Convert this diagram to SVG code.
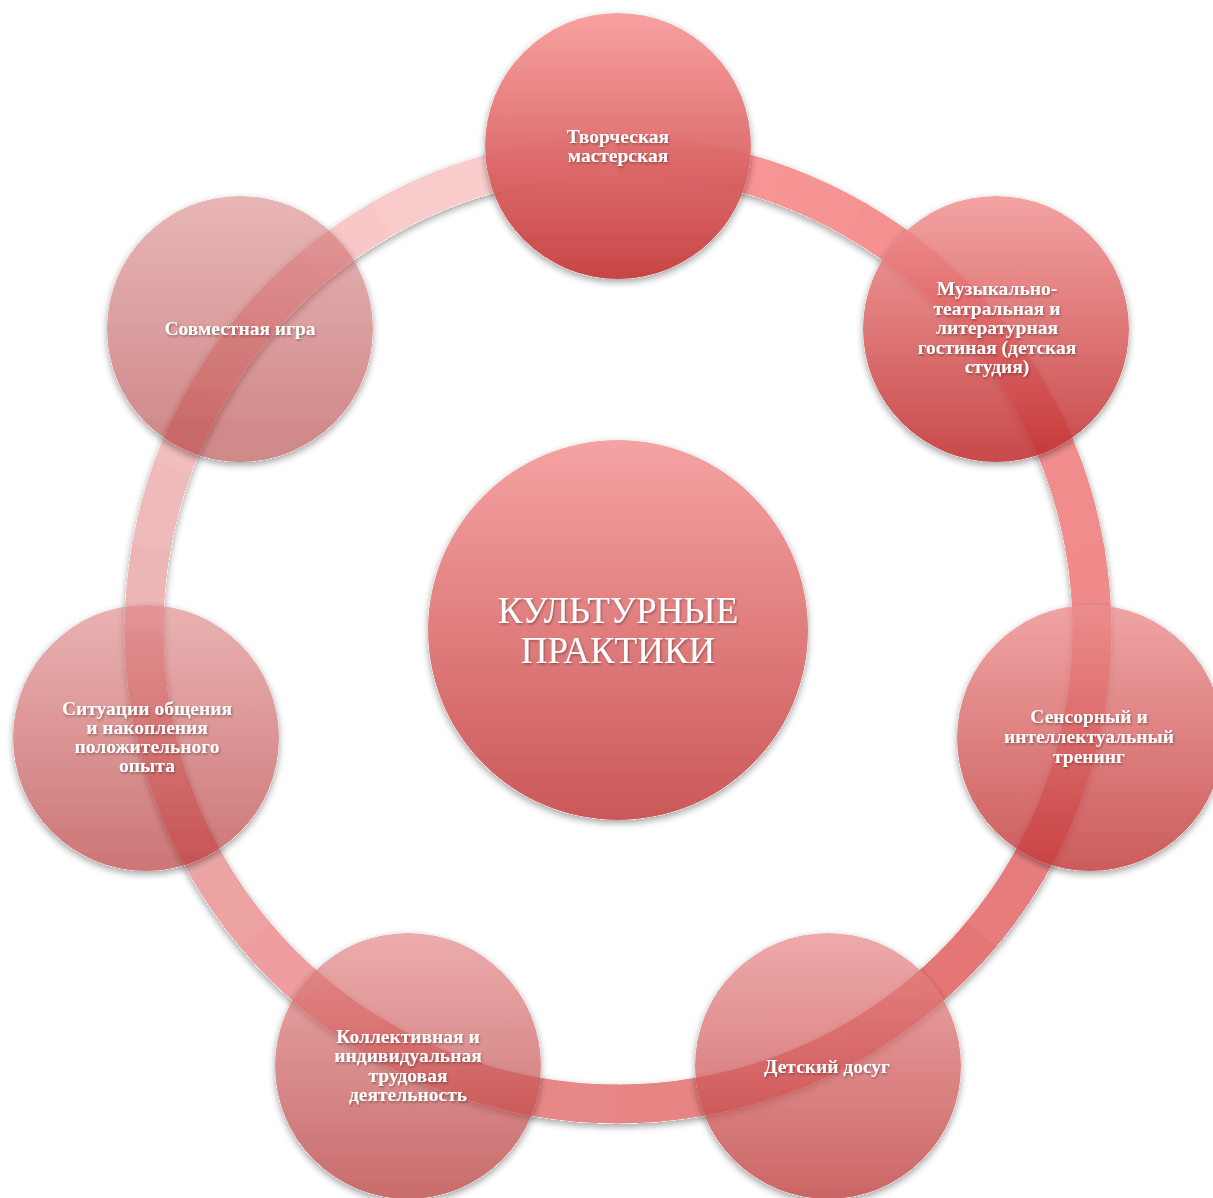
<svg xmlns="http://www.w3.org/2000/svg" width="1213" height="1198" viewBox="0 0 1213 1198">
<defs>
<style>
.seg{fill:none;stroke-width:39;stroke-dasharray:86 3000}
.lbl{font-family:"Liberation Serif","DejaVu Serif",serif;font-weight:bold;font-size:19.5px;fill:#ffffff;text-anchor:middle;filter:url(#ts)}
.big{font-family:"Liberation Serif","DejaVu Serif",serif;font-size:37px;fill:#ffffff;text-anchor:middle;filter:url(#ts)}
</style>
<filter id="sh" x="-10%" y="-10%" width="120%" height="125%">
<feComponentTransfer in="SourceAlpha" result="m"><feFuncA type="linear" slope="20"/></feComponentTransfer>
<feGaussianBlur in="m" stdDeviation="3.5"/>
<feOffset dy="3"/>
<feComponentTransfer result="s"><feFuncA type="linear" slope="0.35"/></feComponentTransfer>
<feComposite in="s" in2="m" operator="out" result="so"/>
<feMerge><feMergeNode in="so"/><feMergeNode in="SourceGraphic"/></feMerge>
</filter>
<filter id="ts" x="-10%" y="-30%" width="120%" height="160%">
<feDropShadow dx="1" dy="1.5" stdDeviation="1" flood-color="#000" flood-opacity="0.35"/>
</filter>
<linearGradient id="gC" x1="0" y1="0" x2="0" y2="1"><stop offset="0" stop-color="#f5a3a3"/><stop offset="1" stop-color="#cb5858"/></linearGradient>
<linearGradient id="g1" x1="0" y1="0" x2="0" y2="1"><stop offset="0" stop-color="#f89c9c"/><stop offset="1" stop-color="#c53b3b"/></linearGradient>
<linearGradient id="g2" x1="0" y1="0" x2="0" y2="1"><stop offset="0" stop-color="#f29393"/><stop offset="1" stop-color="#be2a2a"/></linearGradient>
<linearGradient id="g3" x1="0" y1="0" x2="0" y2="1"><stop offset="0" stop-color="#ec8e8e"/><stop offset="1" stop-color="#bf3333"/></linearGradient>
<linearGradient id="g4" x1="0" y1="0" x2="0" y2="1"><stop offset="0" stop-color="#e88c8c"/><stop offset="1" stop-color="#ba3030"/></linearGradient>
<linearGradient id="g5" x1="0" y1="0" x2="0" y2="1"><stop offset="0" stop-color="#e38585"/><stop offset="1" stop-color="#ae2727"/></linearGradient>
<linearGradient id="g6" x1="0" y1="0" x2="0" y2="1"><stop offset="0" stop-color="#dc7f7f"/><stop offset="1" stop-color="#aa1b1b"/></linearGradient>
<linearGradient id="g7" x1="0" y1="0" x2="0" y2="1"><stop offset="0" stop-color="#d16d6d"/><stop offset="1" stop-color="#9d0d0d"/></linearGradient>
</defs>
<rect width="1213" height="1198" fill="#ffffff"/>

<g id="connectors" filter="url(#sh)">
<g id="ring" transform="translate(618,630)">
<circle class="seg" r="474" transform="rotate(-90)" stroke="rgb(248,150,150)"/>
<circle class="seg" r="474" transform="rotate(-80)" stroke="rgb(247,148,148)"/>
<circle class="seg" r="474" transform="rotate(-70)" stroke="rgb(246,147,147)"/>
<circle class="seg" r="474" transform="rotate(-60)" stroke="rgb(245,145,145)"/>
<circle class="seg" r="474" transform="rotate(-50)" stroke="rgb(244,144,144)"/>
<circle class="seg" r="474" transform="rotate(-40)" stroke="rgb(243,143,143)"/>
<circle class="seg" r="474" transform="rotate(-30)" stroke="rgb(242,141,141)"/>
<circle class="seg" r="474" transform="rotate(-20)" stroke="rgb(241,140,140)"/>
<circle class="seg" r="474" transform="rotate(-10)" stroke="rgb(241,139,139)"/>
<circle class="seg" r="474" transform="rotate(0)" stroke="rgb(240,138,138)"/>
<circle class="seg" r="474" transform="rotate(10)" stroke="rgb(237,133,133)"/>
<circle class="seg" r="474" transform="rotate(20)" stroke="rgb(234,128,128)"/>
<circle class="seg" r="474" transform="rotate(30)" stroke="rgb(231,123,123)"/>
<circle class="seg" r="474" transform="rotate(40)" stroke="rgb(228,118,118)"/>
<circle class="seg" r="474" transform="rotate(50)" stroke="rgb(229,121,121)"/>
<circle class="seg" r="474" transform="rotate(60)" stroke="rgb(230,125,125)"/>
<circle class="seg" r="474" transform="rotate(70)" stroke="rgb(230,128,128)"/>
<circle class="seg" r="474" transform="rotate(80)" stroke="rgb(231,132,132)"/>
<circle class="seg" r="474" transform="rotate(90)" stroke="rgb(232,135,135)"/>
<circle class="seg" r="474" transform="rotate(100)" stroke="rgb(234,141,141)"/>
<circle class="seg" r="474" transform="rotate(110)" stroke="rgb(235,147,147)"/>
<circle class="seg" r="474" transform="rotate(120)" stroke="rgb(237,152,152)"/>
<circle class="seg" r="474" transform="rotate(130)" stroke="rgb(238,158,158)"/>
<circle class="seg" r="474" transform="rotate(140)" stroke="rgb(238,163,163)"/>
<circle class="seg" r="474" transform="rotate(150)" stroke="rgb(238,168,168)"/>
<circle class="seg" r="474" transform="rotate(160)" stroke="rgb(237,173,173)"/>
<circle class="seg" r="474" transform="rotate(170)" stroke="rgb(237,177,177)"/>
<circle class="seg" r="474" transform="rotate(180)" stroke="rgb(237,182,182)"/>
<circle class="seg" r="474" transform="rotate(190)" stroke="rgb(239,186,186)"/>
<circle class="seg" r="474" transform="rotate(200)" stroke="rgb(241,189,189)"/>
<circle class="seg" r="474" transform="rotate(210)" stroke="rgb(244,193,193)"/>
<circle class="seg" r="474" transform="rotate(220)" stroke="rgb(246,196,196)"/>
<circle class="seg" r="474" transform="rotate(230)" stroke="rgb(248,200,200)"/>
<circle class="seg" r="474" transform="rotate(240)" stroke="rgb(249,203,203)"/>
<circle class="seg" r="474" transform="rotate(250)" stroke="rgb(250,205,205)"/>
<circle class="seg" r="474" transform="rotate(257)" stroke="rgb(250,208,208)" stroke-dasharray="50 3000"/>
</g>
</g>

<g id="node-center">
<circle cx="618" cy="630" r="190" fill="url(#gC)" filter="url(#sh)"/>
<text class="big" x="618" y="623">КУЛЬТУРНЫЕ</text>
<text class="big" x="618" y="663">ПРАКТИКИ</text>
</g>

<g id="node-1">
<circle cx="618" cy="146" r="133" fill="url(#g1)" fill-opacity="0.95" filter="url(#sh)"/>
<text class="lbl" x="618" y="143">Творческая</text>
<text class="lbl" x="618" y="162">мастерская</text>
</g>

<g id="node-2">
<circle cx="996" cy="329" r="133" fill="url(#g2)" fill-opacity="0.85" filter="url(#sh)"/>
<text class="lbl" x="997" y="295">Музыкально-</text>
<text class="lbl" x="997" y="315">театральная и</text>
<text class="lbl" x="997" y="334">литературная</text>
<text class="lbl" x="997" y="354">гостиная (детская</text>
<text class="lbl" x="997" y="373">студия)</text>
</g>

<g id="node-3">
<circle cx="1090" cy="738" r="133" fill="url(#g3)" fill-opacity="0.8" filter="url(#sh)"/>
<text class="lbl" x="1089" y="723">Сенсорный и</text>
<text class="lbl" x="1089" y="743">интеллектуальный</text>
<text class="lbl" x="1089" y="763">тренинг</text>
</g>

<g id="node-4">
<circle cx="828" cy="1066" r="133" fill="url(#g4)" fill-opacity="0.74" filter="url(#sh)"/>
<text class="lbl" x="827" y="1073">Детский досуг</text>
</g>

<g id="node-5">
<circle cx="408" cy="1066" r="133" fill="url(#g5)" fill-opacity="0.68" filter="url(#sh)"/>
<text class="lbl" x="408" y="1043">Коллективная и</text>
<text class="lbl" x="408" y="1062">индивидуальная</text>
<text class="lbl" x="408" y="1082">трудовая</text>
<text class="lbl" x="408" y="1101">деятельность</text>
</g>

<g id="node-6">
<circle cx="146" cy="738" r="133" fill="url(#g6)" fill-opacity="0.6" filter="url(#sh)"/>
<text class="lbl" x="147" y="715">Ситуации общения</text>
<text class="lbl" x="147" y="734">и накопления</text>
<text class="lbl" x="147" y="753">положительного</text>
<text class="lbl" x="147" y="772">опыта</text>
</g>

<g id="node-7">
<circle cx="240" cy="329" r="133" fill="url(#g7)" fill-opacity="0.5" filter="url(#sh)"/>
<text class="lbl" x="240" y="335">Совместная игра</text>
</g>
</svg>
